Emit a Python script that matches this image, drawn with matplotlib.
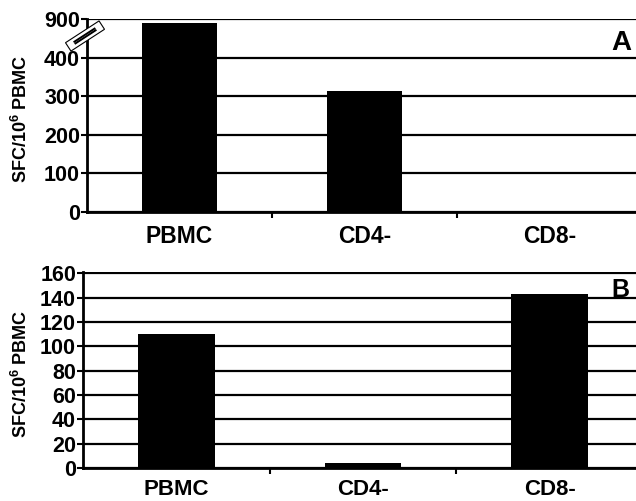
import numpy as np
import matplotlib
matplotlib.use("Agg")
import matplotlib.pyplot as plt
from matplotlib import transforms
from matplotlib.patches import Rectangle
from matplotlib.lines import Line2D

plt.rcParams['font.family'] = ['Liberation Sans', 'DejaVu Sans']
plt.rcParams['font.weight'] = 'bold'
plt.rcParams['mathtext.fontset'] = 'custom'
plt.rcParams['mathtext.rm'] = 'Liberation Sans:bold'
plt.rcParams['mathtext.it'] = 'Liberation Sans:bold'
plt.rcParams['mathtext.bf'] = 'Liberation Sans:bold'

categories = ["PBMC", "CD4-", "CD8-"]
values_a = [855, 313, 0]
values_b = [110, 4, 143]
ticks_a = [0, 100, 200, 300, 400, 900]
ticks_b = list(range(0, 161, 20))
ylabel = "SFC/10$^{6}$ PBMC"

W, H = 636, 501
fig = plt.figure(figsize=(W / 100, H / 100), dpi=100)


def px_axes(left, bottom, right, top):
    return fig.add_axes([left / W, (H - bottom) / H, (right - left) / W, (bottom - top) / H])


# broken scale: 0-400 linear, 400-900 compressed five-fold
def fwd(v):
    v = np.asarray(v, dtype=float)
    return np.where(v <= 400, v, 400 + (v - 400) / 5.0)


def inv(u):
    u = np.asarray(u, dtype=float)
    return np.where(u <= 400, u, 400 + (u - 400) * 5.0)


def style(ax, ticks, lab_y, lab_size):
    x = np.arange(len(categories))
    ax.set_xlim(-0.5, 2.5)
    ax.set_yticks(ticks)
    ax.set_yticklabels([str(t) for t in ticks])
    ax.yaxis.grid(True, color='black', lw=1.6)
    ax.set_axisbelow(True)
    for s in ('top', 'right'):
        ax.spines[s].set_visible(False)
    for s in ('left', 'bottom'):
        ax.spines[s].set_linewidth(2.0)
        ax.spines[s].set_zorder(5)
    ax.tick_params(axis='y', length=4, width=1.5, labelsize=15.5, pad=1)
    ax.set_xticks([0.5, 1.5])
    ax.set_xticklabels([])
    ax.tick_params(axis='x', length=4, width=1.5, direction='out')
    for xi, c in zip(x, categories):
        ax.text(xi, lab_y, c, transform=ax.get_xaxis_transform(), ha='center',
                va='baseline', fontsize=lab_size, fontweight='bold')
    ax.set_ylabel(ylabel, fontsize=13, fontweight='bold', labelpad=2)


# Panel A
ax1 = px_axes(87, 212, 87 + 555, 19)
ax1.set_yscale('function', functions=(fwd, inv))
ax1.set_ylim(0, 905)
ax1.bar(np.arange(3), values_a, width=0.405, color='black', zorder=3)
style(ax1, ticks_a, -31 / 193, 16.5)
ax1.yaxis.set_label_coords(-56 / 555, 0.48)
fig.text(621 / W, (H - 43) / H, "A", ha='center', va='center', fontsize=20, fontweight='bold')

# axis break marker on panel A
bx, by = 85 / 100, (H - 36) / 100
brk = transforms.Affine2D().rotate_deg_around(bx, by, 33) + fig.dpi_scale_trans
fig.patches.append(Rectangle((bx - 0.20, by - 0.05), 0.40, 0.10, facecolor='white',
                             edgecolor='black', lw=0.8, transform=brk, zorder=10))
for off in (-0.01, 0.01):
    fig.lines.append(Line2D([bx - 0.12, bx + 0.12], [by + off, by + off], color='black',
                            lw=1.4, transform=brk, zorder=11))

# Panel B
ax2 = px_axes(83, 468, 83 + 560, 272)
ax2.set_ylim(0, 161)
ax2.bar(np.arange(3), values_b, width=0.41, color='black', zorder=3)
style(ax2, ticks_b, -27 / 196, 16)
ax2.yaxis.set_label_coords(-52 / 560, 0.48)
fig.text(620 / W, (H - 290) / H, "B", ha='center', va='center', fontsize=18, fontweight='bold')

fig.savefig("out.png", dpi=100)
